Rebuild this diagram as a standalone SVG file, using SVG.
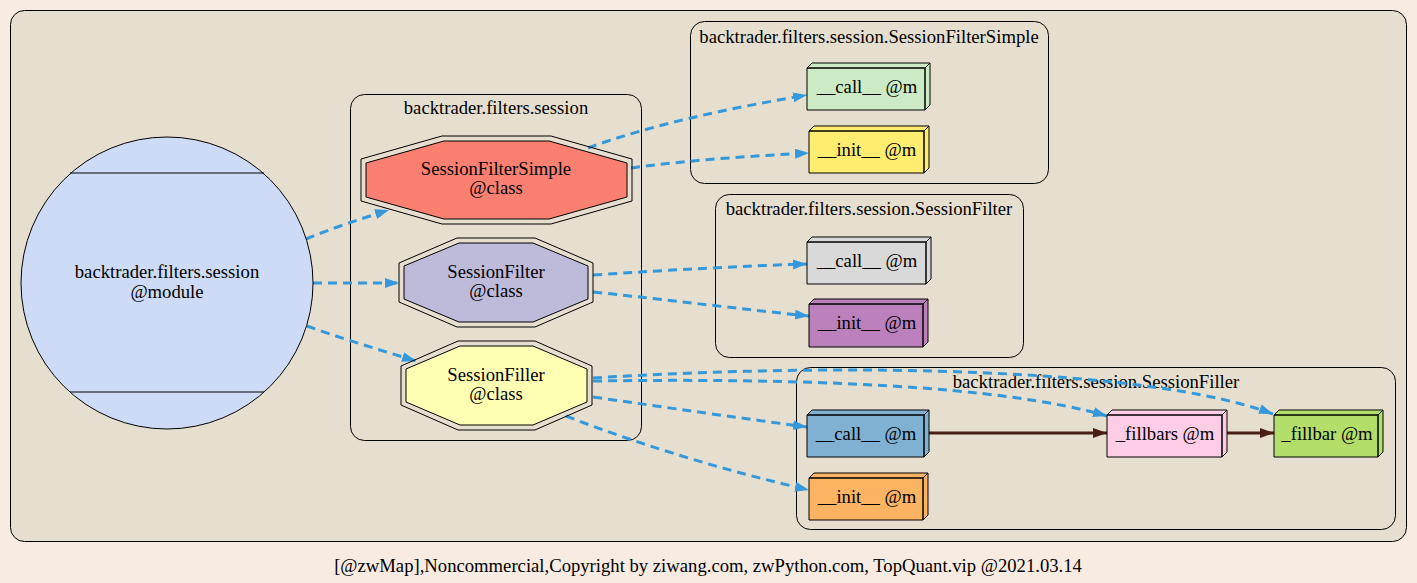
<svg xmlns="http://www.w3.org/2000/svg" width="1417" height="583" viewBox="0 0 1417 583">
<defs>
<style>
text{font-family:"Liberation Serif","Times New Roman",serif;font-size:18.67px;fill:#000;text-anchor:middle}
.cl{fill:#e6dfd0;stroke:#000;stroke-width:1}
.oc{stroke:#000;stroke-width:1}
.bx{stroke:#000;stroke-width:1;stroke-linejoin:miter}
.e{fill:none;stroke:#3498db;stroke-width:3;stroke-dasharray:9,6}
.s{fill:none;stroke:#4b1f16;stroke-width:3}
</style>
<marker id="ab" markerUnits="userSpaceOnUse" markerWidth="15" markerHeight="11" refX="14" refY="5" orient="auto" viewBox="0 0 15 11">
<path d="M0,0 L14,5 L0,10 z" fill="#3498db"/>
</marker>
<marker id="ar" markerUnits="userSpaceOnUse" markerWidth="15" markerHeight="11" refX="14" refY="5" orient="auto" viewBox="0 0 15 11">
<path d="M0,0 L14,5 L0,10 z" fill="#4b1f16"/>
</marker>
</defs>
<rect x="0" y="0" width="1417" height="583" fill="#f8ebe2"/>
<g id="clusters">
<rect class="cl" x="10.5" y="10.5" width="1396" height="531" rx="14"/>
<rect class="cl" x="350.5" y="94.5" width="291" height="346" rx="14"/>
<text x="496" y="114">backtrader.filters.session</text>
<rect class="cl" x="690.5" y="21.5" width="358" height="162" rx="14"/>
<text x="869" y="43">backtrader.filters.session.SessionFilterSimple</text>
<rect class="cl" x="715.5" y="194.5" width="308" height="163" rx="14"/>
<text x="869" y="215">backtrader.filters.session.SessionFilter</text>
<rect class="cl" x="796.5" y="367.5" width="599" height="162" rx="14"/>
<text x="1096" y="388">backtrader.filters.session.SessionFiller</text>
</g>
<g id="edges">
<path class="e" marker-end="url(#ab)" d="M306,239 C330,229 360,219 389,210"/>
<path class="e" marker-end="url(#ab)" d="M313,283 L399,283"/>
<path class="e" marker-end="url(#ab)" d="M307,326 C340,338 380,350 416,361"/>
<path class="e" marker-end="url(#ab)" d="M588,148 C650,125 730,108 807,95"/>
<path class="e" marker-end="url(#ab)" d="M631,168 C690,160 750,156 809,153"/>
<path class="e" marker-end="url(#ab)" d="M593,275 C670,270 740,266 807,264"/>
<path class="e" marker-end="url(#ab)" d="M593,292 C670,300 740,309 809,316"/>
<path class="e" marker-end="url(#ab)" d="M593,378 C850,362 1150,368 1273,414"/>
<path class="e" marker-end="url(#ab)" d="M593,381 C800,378 1000,385 1107,416"/>
<path class="e" marker-end="url(#ab)" d="M593,397 C670,408 740,418 807,427"/>
<path class="e" marker-end="url(#ab)" d="M566,416 C640,445 730,472 809,490"/>
<path class="s" marker-end="url(#ar)" d="M929,433 L1107,433"/>
<path class="s" marker-end="url(#ar)" d="M1227,433 L1274,433"/>
</g>
<g id="module">
<circle cx="167" cy="283" r="146" fill="#cedbf6" stroke="#000" stroke-width="1"/>
<line x1="70" y1="173" x2="264" y2="173" stroke="#000" stroke-width="1"/>
<line x1="70" y1="392" x2="264" y2="392" stroke="#000" stroke-width="1"/>
<text x="167" y="278">backtrader.filters.session</text>
<text x="167" y="298">@module</text>
</g>
<g id="SessionFilterSimple">
<polygon class="oc" fill="none" points="442,136 551,136 632,159 632,201 551,224 442,224 361,201 361,159"/>
<polygon class="oc" fill="#fb8072" points="444,141 549,141 627,163 627,197 549,219 444,219 366,197 366,163"/>
<text x="496" y="175">SessionFilterSimple</text>
<text x="496" y="194">@class</text>
</g>
<g id="SessionFilter">
<polygon class="oc" fill="none" points="457,238 535,238 593,263 593,302 535,327 457,327 399,302 399,263"/>
<polygon class="oc" fill="#bebada" points="459,243 533,243 588,266 588,299 533,322 459,322 404,299 404,266"/>
<text x="496" y="278">SessionFilter</text>
<text x="496" y="297">@class</text>
</g>
<g id="SessionFiller">
<polygon class="oc" fill="none" points="458,341 535,341 592,366 592,405 535,430 458,430 401,405 401,366"/>
<polygon class="oc" fill="#ffffb3" points="460,346 533,346 587,369 587,402 533,425 460,425 406,402 406,369"/>
<text x="496" y="381">SessionFiller</text>
<text x="496" y="400">@class</text>
</g>
<g id="SFS_call">
<path class="bx" fill="#ccebc5" d="M807,68 L925,68 L925,110 L807,110 Z M807,68 L812,63 L930,63 L925,68 Z M925,68 L930,63 L930,105 L925,110 Z"/>
<text x="867" y="93">__call__ @m</text>
</g>
<g id="SFS_init">
<path class="bx" fill="#ffed6f" d="M809,131 L924,131 L924,173 L809,173 Z M809,131 L814,126 L929,126 L924,131 Z M924,131 L929,126 L929,168 L924,173 Z"/>
<text x="867" y="156">__init__ @m</text>
</g>
<g id="SF_call">
<path class="bx" fill="#d9d9d9" d="M807,242 L926,242 L926,284 L807,284 Z M807,242 L812,237 L931,237 L926,242 Z M926,242 L931,237 L931,279 L926,284 Z"/>
<text x="867" y="267">__call__ @m</text>
</g>
<g id="SF_init">
<path class="bx" fill="#bc80bd" d="M809,304 L923,304 L923,347 L809,347 Z M809,304 L814,299 L928,299 L923,304 Z M923,304 L928,299 L928,342 L923,347 Z"/>
<text x="867" y="329">__init__ @m</text>
</g>
<g id="SFr_call">
<path class="bx" fill="#80b1d3" d="M807,415 L924,415 L924,457 L807,457 Z M807,415 L812,410 L929,410 L924,415 Z M924,415 L929,410 L929,452 L924,457 Z"/>
<text x="866" y="440">__call__ @m</text>
</g>
<g id="SFr_init">
<path class="bx" fill="#fdb462" d="M809,478 L923,478 L923,520 L809,520 Z M809,478 L814,473 L928,473 L923,478 Z M923,478 L928,473 L928,515 L923,520 Z"/>
<text x="867" y="503">__init__ @m</text>
</g>
<g id="SFr_fillbars">
<path class="bx" fill="#fccde5" d="M1107,415 L1222,415 L1222,457 L1107,457 Z M1107,415 L1112,410 L1227,410 L1222,415 Z M1222,415 L1227,410 L1227,452 L1222,457 Z"/>
<text x="1165" y="440">_fillbars @m</text>
</g>
<g id="SFr_fillbar">
<path class="bx" fill="#b3de69" d="M1274,415 L1378,415 L1378,457 L1274,457 Z M1274,415 L1279,410 L1383,410 L1378,415 Z M1378,415 L1383,410 L1383,452 L1378,457 Z"/>
<text x="1327" y="440">_fillbar @m</text>
</g>
<text x="708" y="572">[@zwMap],Noncommercial,Copyright by ziwang.com, zwPython.com, TopQuant.vip @2021.03.14</text>
</svg>
